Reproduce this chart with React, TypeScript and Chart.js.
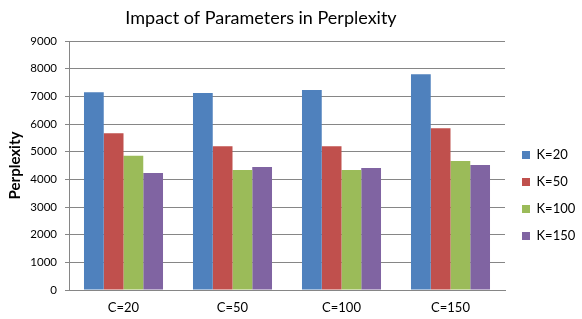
import React, { useEffect, useRef } from "react";
import { Chart, registerables } from "chart.js";

Chart.register(...registerables);

const categories = ["C=20", "C=50", "C=100", "C=150"];
const seriesNames = ["K=20", "K=50", "K=100", "K=150"];
const k20 = [7150, 7120, 7230, 7800];
const k50 = [5670, 5200, 5200, 5850];
const k100 = [4850, 4340, 4340, 4660];
const k150 = [4230, 4450, 4410, 4520];
const colors = ["#4F81BD", "#C0504D", "#9BBB59", "#8064A2"];
const titleText = "Impact of Parameters in Perplexity";
const yTitle = "Perplexity";

const FONT = "Lato, 'Open Sans', sans-serif";
const GRID = "#868686";

const titlePlugin = {
  id: "customTitle",
  afterDraw(chart: any) {
    const ctx = chart.ctx;
    ctx.save();
    ctx.font = `18px ${FONT}`;
    ctx.fillStyle = "#000";
    ctx.textAlign = "center";
    ctx.textBaseline = "middle";
    ctx.fillText(titleText, 261, 18);
    ctx.restore();
  },
};

export default function App() {
  const ref = useRef<HTMLCanvasElement | null>(null);
  useEffect(() => {
    if (!ref.current) return;
    const all = [k20, k50, k100, k150];
    const chart = new Chart(ref.current, {
      type: "bar",
      data: {
        labels: categories,
        datasets: all.map((d, i) => ({
          label: seriesNames[i],
          data: d,
          backgroundColor: colors[i],
          borderWidth: 0,
          barPercentage: 1,
          categoryPercentage: 0.725,
        })),
      },
      options: {
        responsive: false,
        animation: false,
        layout: { padding: { top: 41, left: 0, right: 0, bottom: 0 } },
        plugins: {
          title: { display: false },
          tooltip: { enabled: false },
          legend: {
            position: "right",
            fullSize: true,
            maxWidth: 74,
            title: {
              display: true,
              text: " ",
              font: { size: 10, lineHeight: 1 },
              padding: { top: 21, bottom: 0 },
            },
            labels: {
              boxWidth: 8,
              boxHeight: 8,
              padding: 14,
              color: "#000",
              font: { family: FONT, size: 13 },
            },
          },
        },
        scales: {
          x: {
            grid: { display: false, drawTicks: false },
            border: { display: true, color: GRID, width: 1 },
            ticks: { color: "#000", padding: 10, font: { family: FONT, size: 13 } },
            afterFit: (s: any) => {
              s.height = 29;
            },
          },
          y: {
            min: 0,
            max: 9000,
            ticks: {
              stepSize: 1000,
              color: "#000",
              padding: 8,
              font: { family: FONT, size: 11.5 },
              callback: (v: any) => String(v),
            },
            grid: { color: GRID, lineWidth: 1, drawTicks: true, tickLength: 4, tickColor: GRID },
            border: { display: true, color: GRID, width: 1 },
            title: {
              display: true,
              text: yTitle,
              color: "#000",
              font: { family: FONT, size: 15, weight: "bold" },
              padding: { top: 6, bottom: 0 },
            },
            afterFit: (s: any) => {
              s.width = 69;
            },
          },
          yR: {
            position: "right",
            display: true,
            grid: { display: false, drawTicks: false },
            border: { display: false },
            ticks: { display: false },
            afterFit: (s: any) => {
              s.width = 3;
            },
          },
        },
      } as any,
      plugins: [titlePlugin],
    });
    return () => chart.destroy();
  }, []);
  return (
    <div style={{ position: "absolute", left: 0, top: 0, width: 582, height: 319, background: "#fff" }}>
      <canvas ref={ref} width={582} height={319} style={{ display: "block" }} />
    </div>
  );
}
